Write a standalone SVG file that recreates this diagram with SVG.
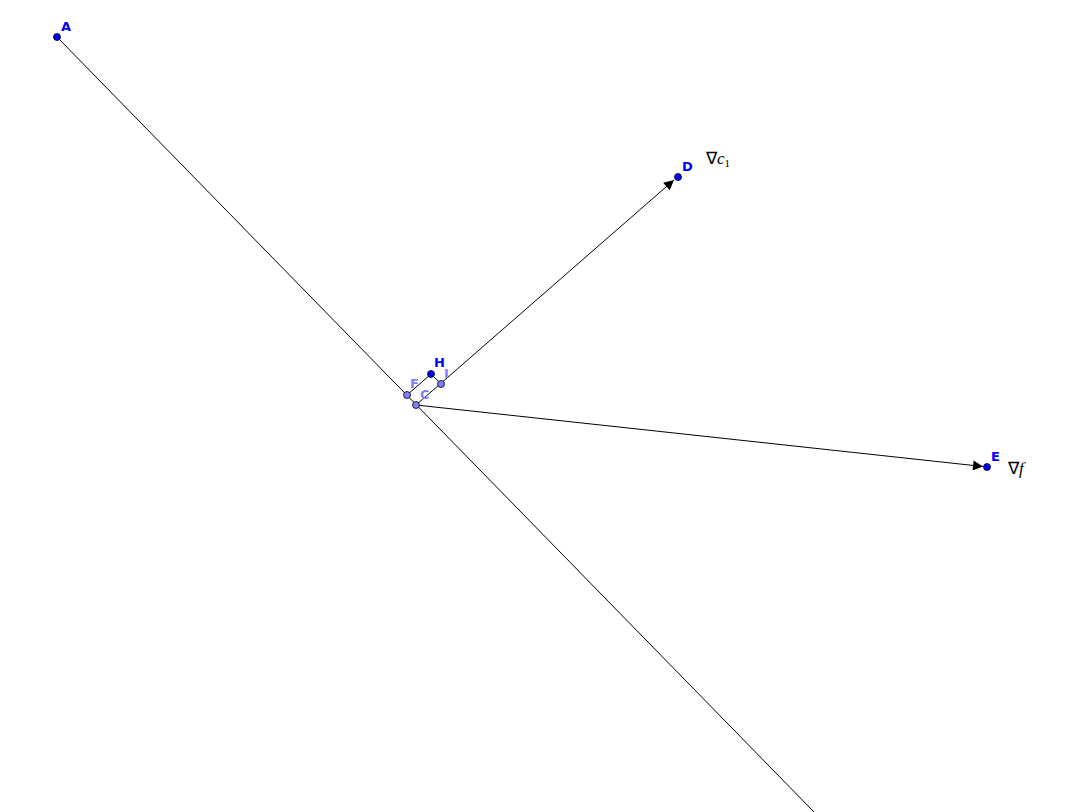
<svg xmlns="http://www.w3.org/2000/svg" width="1065" height="812" viewBox="0 0 1065 812">
<defs>
<style>
.ln{stroke:#000;stroke-width:1;fill:none}
.pt{fill:#0000ff;stroke:#000;stroke-width:0.8}
.pl{fill:#7f7fff;stroke:#000;stroke-width:0.8}
.lb{font-family:"DejaVu Sans",sans-serif;font-weight:bold;font-size:13px;fill:#0000ff}
.ll{font-family:"DejaVu Sans",sans-serif;font-weight:bold;font-size:13px;fill:#7f7fff}
.mt{font-family:"Liberation Serif",serif;font-size:17px;fill:#000}
</style>
<marker id="arr" viewBox="0 0 10 10" refX="10" refY="5" markerWidth="15" markerHeight="10" markerUnits="userSpaceOnUse" orient="auto">
<path d="M0,0 L10,5 L0,10 z" fill="#000"/>
</marker>
</defs>
<rect width="1065" height="812" fill="#fff"/>
<g id="connectors">
<line class="ln" x1="57" y1="37" x2="814" y2="812"/>
<line class="ln" x1="416" y1="405" x2="674" y2="180" marker-end="url(#arr)"/>
<line class="ln" x1="416" y1="405" x2="983" y2="466.5" marker-end="url(#arr)"/>
<polyline class="ln" points="407,395 431,374 441,384"/>
</g>
<g id="A"><circle class="pt" cx="57" cy="37" r="3.5"/><text class="lb" x="61" y="31">A</text></g>
<g id="D"><circle class="pt" cx="678" cy="177" r="3.5"/><text class="lb" x="682" y="171">D</text></g>
<g id="E"><circle class="pt" cx="987" cy="467" r="3.5"/><text class="lb" x="991" y="461">E</text></g>
<g id="H"><circle class="pt" cx="431" cy="374" r="3.5"/><text class="lb" x="434" y="367">H</text></g>
<g id="I"><circle class="pl" cx="441" cy="384" r="3.5"/><text class="ll" x="444" y="378">I</text></g>
<g id="F"><circle class="pl" cx="407" cy="395" r="3.5"/><text class="ll" x="410" y="388">F</text></g>
<g id="C"><circle class="pl" cx="416" cy="405" r="3.5"/><text class="ll" x="420" y="399">C</text></g>
<g id="label-c1"><text class="mt" x="706" y="164">∇<tspan font-style="italic">c</tspan><tspan font-size="11" dy="3">1</tspan></text></g>
<g id="label-f"><text class="mt" x="1008" y="474">∇<tspan font-style="italic">f</tspan></text></g>
</svg>
